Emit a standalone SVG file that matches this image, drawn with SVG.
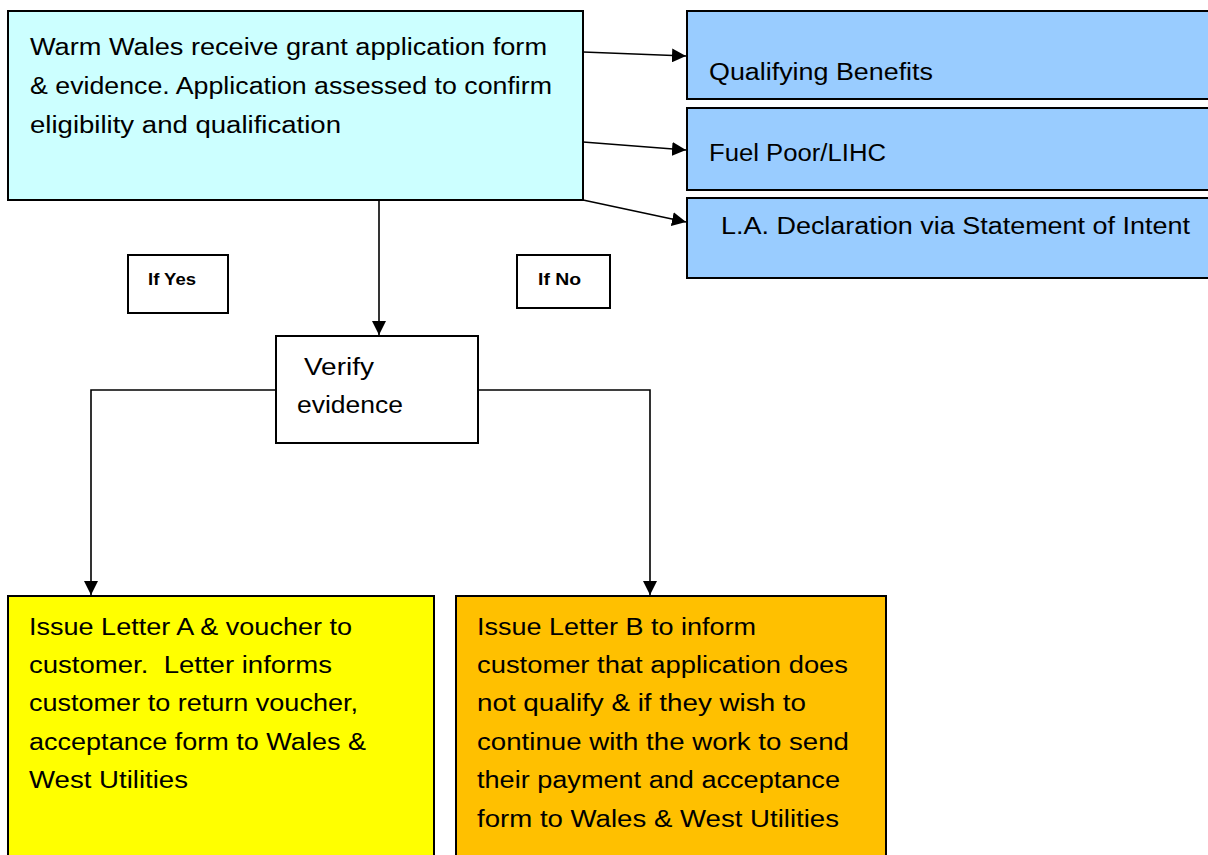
<svg xmlns="http://www.w3.org/2000/svg" width="1208" height="855" viewBox="0 0 1208 855">
<style>
.box{stroke:#000;stroke-width:2}
.t{font-family:"Liberation Sans",Arial,sans-serif;font-size:23px;fill:#000}
.s{font-family:"Liberation Sans",Arial,sans-serif;font-size:16px;font-weight:bold;fill:#000}
.c{stroke:#000;stroke-width:1.6;fill:none}
</style>
<defs>
<marker id="ah" viewBox="0 0 10 10" refX="10" refY="5" markerWidth="14" markerHeight="14" markerUnits="userSpaceOnUse" orient="auto">
<path d="M0,0 L10,5 L0,10 z" fill="#000"/>
</marker>
</defs>
<rect width="1208" height="855" fill="#fff"/>
<g id="connectors">
<line class="c" x1="583" y1="52" x2="686" y2="56" marker-end="url(#ah)"/>
<line class="c" x1="583" y1="142" x2="686" y2="150" marker-end="url(#ah)"/>
<line class="c" x1="583" y1="200" x2="686" y2="222" marker-end="url(#ah)"/>
<line class="c" x1="379" y1="200" x2="379" y2="335" marker-end="url(#ah)"/>
<polyline class="c" points="276,390 91,390 91,595" marker-end="url(#ah)"/>
<polyline class="c" points="478,390 650,390 650,595" marker-end="url(#ah)"/>
</g>
<g id="main">
<rect class="box" x="8" y="11" width="575" height="189" fill="#CCFFFF"/>
<text class="t" x="30" y="55" textLength="517" lengthAdjust="spacingAndGlyphs">Warm Wales receive grant application form</text>
<text class="t" x="30" y="94" textLength="522" lengthAdjust="spacingAndGlyphs">&amp; evidence. Application assessed to confirm</text>
<text class="t" x="30" y="133" textLength="311" lengthAdjust="spacingAndGlyphs">eligibility and qualification</text>
</g>
<g id="benefits">
<rect class="box" x="687" y="11" width="530" height="88" fill="#99CCFF"/>
<text class="t" x="709" y="80" textLength="224" lengthAdjust="spacingAndGlyphs">Qualifying Benefits</text>
</g>
<g id="fuelpoor">
<rect class="box" x="687" y="108" width="530" height="82" fill="#99CCFF"/>
<text class="t" x="709" y="161" textLength="177" lengthAdjust="spacingAndGlyphs">Fuel Poor/LIHC</text>
</g>
<g id="la">
<rect class="box" x="687" y="198" width="530" height="80" fill="#99CCFF"/>
<text class="t" x="721" y="234" textLength="469" lengthAdjust="spacingAndGlyphs">L.A. Declaration via Statement of Intent</text>
</g>
<g id="ifyes">
<rect class="box" x="128" y="255" width="100" height="58" fill="#fff"/>
<text class="s" x="148" y="285" textLength="48" lengthAdjust="spacingAndGlyphs">If Yes</text>
</g>
<g id="ifno">
<rect class="box" x="517" y="255" width="93" height="53" fill="#fff"/>
<text class="s" x="538" y="285" textLength="43" lengthAdjust="spacingAndGlyphs">If No</text>
</g>
<g id="verify">
<rect class="box" x="276" y="336" width="202" height="107" fill="#fff"/>
<text class="t" x="304" y="375" textLength="70" lengthAdjust="spacingAndGlyphs">Verify</text>
<text class="t" x="297" y="413" textLength="106" lengthAdjust="spacingAndGlyphs">evidence</text>
</g>
<g id="lettera">
<rect class="box" x="8" y="596" width="426" height="270" fill="#FFFF00"/>
<text class="t" x="29" y="635" textLength="323" lengthAdjust="spacingAndGlyphs">Issue Letter A &amp; voucher to</text>
<text class="t" x="29" y="673" textLength="303" lengthAdjust="spacingAndGlyphs" xml:space="preserve">customer.  Letter informs</text>
<text class="t" x="29" y="711" textLength="329" lengthAdjust="spacingAndGlyphs">customer to return voucher,</text>
<text class="t" x="29" y="750" textLength="337" lengthAdjust="spacingAndGlyphs">acceptance form to Wales &amp;</text>
<text class="t" x="29" y="788" textLength="159" lengthAdjust="spacingAndGlyphs">West Utilities</text>
</g>
<g id="letterb">
<rect class="box" x="456" y="596" width="430" height="270" fill="#FFC000"/>
<text class="t" x="477" y="635" textLength="279" lengthAdjust="spacingAndGlyphs">Issue Letter B to inform</text>
<text class="t" x="477" y="673" textLength="371" lengthAdjust="spacingAndGlyphs">customer that application does</text>
<text class="t" x="477" y="711" textLength="329" lengthAdjust="spacingAndGlyphs">not qualify &amp; if they wish to</text>
<text class="t" x="477" y="750" textLength="372" lengthAdjust="spacingAndGlyphs">continue with the work to send</text>
<text class="t" x="477" y="788" textLength="363" lengthAdjust="spacingAndGlyphs">their payment and acceptance</text>
<text class="t" x="477" y="827" textLength="362" lengthAdjust="spacingAndGlyphs">form to Wales &amp; West Utilities</text>
</g>
</svg>
